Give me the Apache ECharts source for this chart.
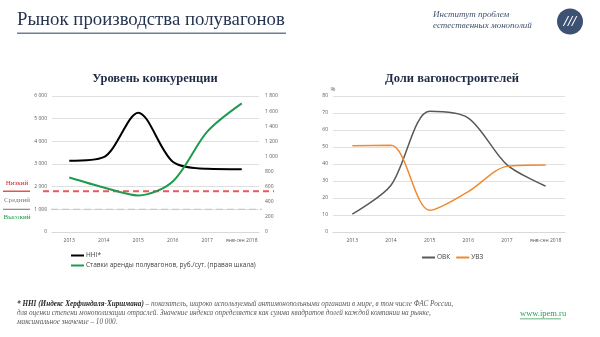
<!DOCTYPE html>
<html><head><meta charset="utf-8">
<script src="https://cdn.jsdelivr.net/npm/echarts@6/dist/echarts.min.js"></script>
<style>html,body{margin:0;padding:0;background:#fff}#c{width:600px;height:337px}</style>
</head><body><div id="c"></div>
<script>
const categories = ['2013','2014','2015','2016','2017','янв-сен 2018'];
const hhi = [3140, 3300, 5266, 3100, 2790, 2770];
const rentRates = [722, 590, 484, 669, 1329, 1703];
const ovk = [10.5, 27.5, 71, 67, 39.5, 27];
const uvz = [50.8, 51, 12.8, 23.8, 38.6, 39.4];
const thresholdHigh = 1800;
const thresholdLow = 1000;
const thresholdLabels = ['Низкий', 'Средний', 'Высокий'];

const serif = '"Liberation Serif", "DejaVu Serif", serif';
const sans = '"Open Sans", "Liberation Sans", sans-serif';
const chart = echarts.init(document.getElementById('c'), null, {renderer:'canvas'});
const axisLbl = {fontSize:5, color:'#595959', fontFamily:sans};
const xCommon = {type:'category', data:categories, boundaryGap:true,
  axisLine:{show:true, lineStyle:{color:'#d9d9d9'}}, axisTick:{show:false},
  axisLabel:Object.assign({margin:6, interval:0}, axisLbl)};
const split = {show:true, lineStyle:{color:'#e0e0e0', width:1}};
const fmt = v => v >= 1000 ? String(v).replace(/(\d)(?=(\d{3})$)/, '$1 ') : String(v);
const sm = 0.3;

chart.setOption({
  animation:false,
  title:[
    {text:'Уровень конкуренции', left:150, top:67, textAlign:'center',
     textStyle:{fontFamily:serif, fontWeight:'bold', fontSize:12.5, color:'#1f2b45'}},
    {text:'Доли вагоностроителей', left:447, top:67, textAlign:'center',
     textStyle:{fontFamily:serif, fontWeight:'bold', fontSize:12.5, color:'#1f2b45'}}
  ],
  grid:[
    {left:52, right:341, top:96, bottom:105},
    {left:333, right:35, top:96, bottom:105}
  ],
  legend:[
    {data:['HHI*','Ставки аренды полувагонов, руб./сут. (правая шкала)'], orient:'vertical',
     left:66, top:247, itemWidth:13, itemHeight:2, itemGap:3, icon:'rect',
     textStyle:{fontSize:6.5, color:'#404040', fontFamily:sans, padding:[0,0,0,-3]}},
    {data:['ОВК','УВЗ'], orient:'horizontal', left:417, top:249, itemWidth:13, itemHeight:2,
     itemGap:6, icon:'rect', textStyle:{fontSize:6.5, color:'#404040', fontFamily:sans, padding:[0,0,0,-3]}}
  ],
  xAxis:[
    Object.assign({gridIndex:0}, xCommon),
    Object.assign({gridIndex:1}, xCommon)
  ],
  yAxis:[
    {type:'value', gridIndex:0, min:0, max:6000, interval:1000, axisLine:{show:false}, axisTick:{show:false},
     axisLabel:Object.assign({margin:5, formatter:fmt}, axisLbl), splitLine:split},
    {type:'value', gridIndex:0, min:0, max:1800, interval:200, position:'right', axisLine:{show:false}, axisTick:{show:false},
     axisLabel:Object.assign({margin:6, formatter:fmt}, axisLbl), splitLine:{show:false}},
    {type:'value', gridIndex:1, min:0, max:80, interval:10, axisLine:{show:false}, axisTick:{show:false},
     name:'%', nameLocation:'end', nameGap:4, nameTextStyle:{fontSize:6, color:'#595959', fontFamily:sans},
     axisLabel:Object.assign({margin:5}, axisLbl), splitLine:split}
  ],
  series:[
    {name:'HHI*', type:'line', xAxisIndex:0, yAxisIndex:0, data:hhi, smooth:sm, symbol:'none',
     lineStyle:{color:'#000', width:2}, itemStyle:{color:'#000'}, z:4},
    {name:'Ставки аренды полувагонов, руб./сут. (правая шкала)', type:'line', xAxisIndex:0, yAxisIndex:1,
     data:rentRates, smooth:sm, symbol:'none', lineStyle:{color:'#1f9a4e', width:2}, itemStyle:{color:'#1f9a4e'}, z:5},
    {name:'ОВК', type:'line', xAxisIndex:1, yAxisIndex:2, data:ovk, smooth:sm, symbol:'none',
     lineStyle:{color:'#595959', width:1.5}, itemStyle:{color:'#595959'}},
    {name:'УВЗ', type:'line', xAxisIndex:1, yAxisIndex:2, data:uvz, smooth:sm, symbol:'none',
     lineStyle:{color:'#f08a30', width:1.5}, itemStyle:{color:'#f08a30'}}
  ]
});

const yHigh = chart.convertToPixel({yAxisIndex:0}, thresholdHigh);
const yLow = chart.convertToPixel({yAxisIndex:0}, thresholdLow);

chart.setOption({graphic:[
  {type:'text', left:17, top:11, style:{text:'Рынок производства полувагонов', font:'18.8px '+serif, fill:'#27344f'}},
  {type:'rect', shape:{x:17, y:32.5, width:269, height:1.5}, style:{fill:'#717d93'}},
  {type:'text', left:433, top:10, style:{text:'Институт проблем', font:'italic 9px '+serif, fill:'#3f4f6c'}},
  {type:'text', left:433, top:21, style:{text:'естественных монополий', font:'italic 9px '+serif, fill:'#3f4f6c'}},
  {type:'circle', shape:{cx:570, cy:21.5, r:13}, style:{fill:'#3d5172'}},
  {type:'text', x:570, y:22, style:{text:'///', font:'italic bold 15px '+serif, fill:'#fff', align:'center', verticalAlign:'middle'}},
  {type:'line', shape:{x1:43, y1:yHigh, x2:274, y2:yHigh}, style:{stroke:'#e8575a', lineWidth:2, lineDash:[6,4]}, z:3},
  {type:'line', shape:{x1:40, y1:yLow, x2:262, y2:yLow}, style:{stroke:'#c8c8c8', lineWidth:1.2, lineDash:[7,4]}, z:3},
  {type:'line', shape:{x1:3, y1:yHigh, x2:30, y2:yHigh}, style:{stroke:'#d62b2b', lineWidth:1.2}},
  {type:'line', shape:{x1:3, y1:yLow, x2:30, y2:yLow}, style:{stroke:'#8c8c8c', lineWidth:1.2}},
  {type:'text', x:17, y:yHigh-8, style:{text:thresholdLabels[0], font:'7px '+serif, fill:'#d62b2b', align:'center', verticalAlign:'middle'}},
  {type:'text', x:17, y:(yHigh+yLow)/2-0.5, style:{text:thresholdLabels[1], font:'7px '+serif, fill:'#7f7f7f', align:'center', verticalAlign:'middle'}},
  {type:'text', x:17, y:yLow+8, style:{text:thresholdLabels[2], font:'7px '+serif, fill:'#1f9a4e', align:'center', verticalAlign:'middle'}},
  {type:'text', left:17, top:301, style:{rich:{b:{font:'italic bold 7.2px '+serif, fill:'#262626'}, n:{font:'italic 7.2px '+serif, fill:'#595959'}},
     text:'{b|* HHI (Индекс Херфиндаля-Хиршмана)}{n| – показатель, широко используемый антимонопольными органами в мире, в том числе ФАС России,}'}},
  {type:'text', left:17, top:310, style:{text:'для оценки степени монополизации отраслей. Значение индекса определяется как сумма квадратов долей каждой компании на рынке,', font:'italic 7.2px '+serif, fill:'#595959'}},
  {type:'text', left:17, top:319, style:{text:'максимальное значение – 10 000.', font:'italic 7.2px '+serif, fill:'#595959'}},
  {type:'text', left:520, top:309, style:{text:'www.ipem.ru', font:'8.5px '+serif, fill:'#2e9e57'}},
  {type:'rect', shape:{x:520, y:318.5, width:41, height:0.8}, style:{fill:'#2e9e57'}}
]});
</script></body></html>
